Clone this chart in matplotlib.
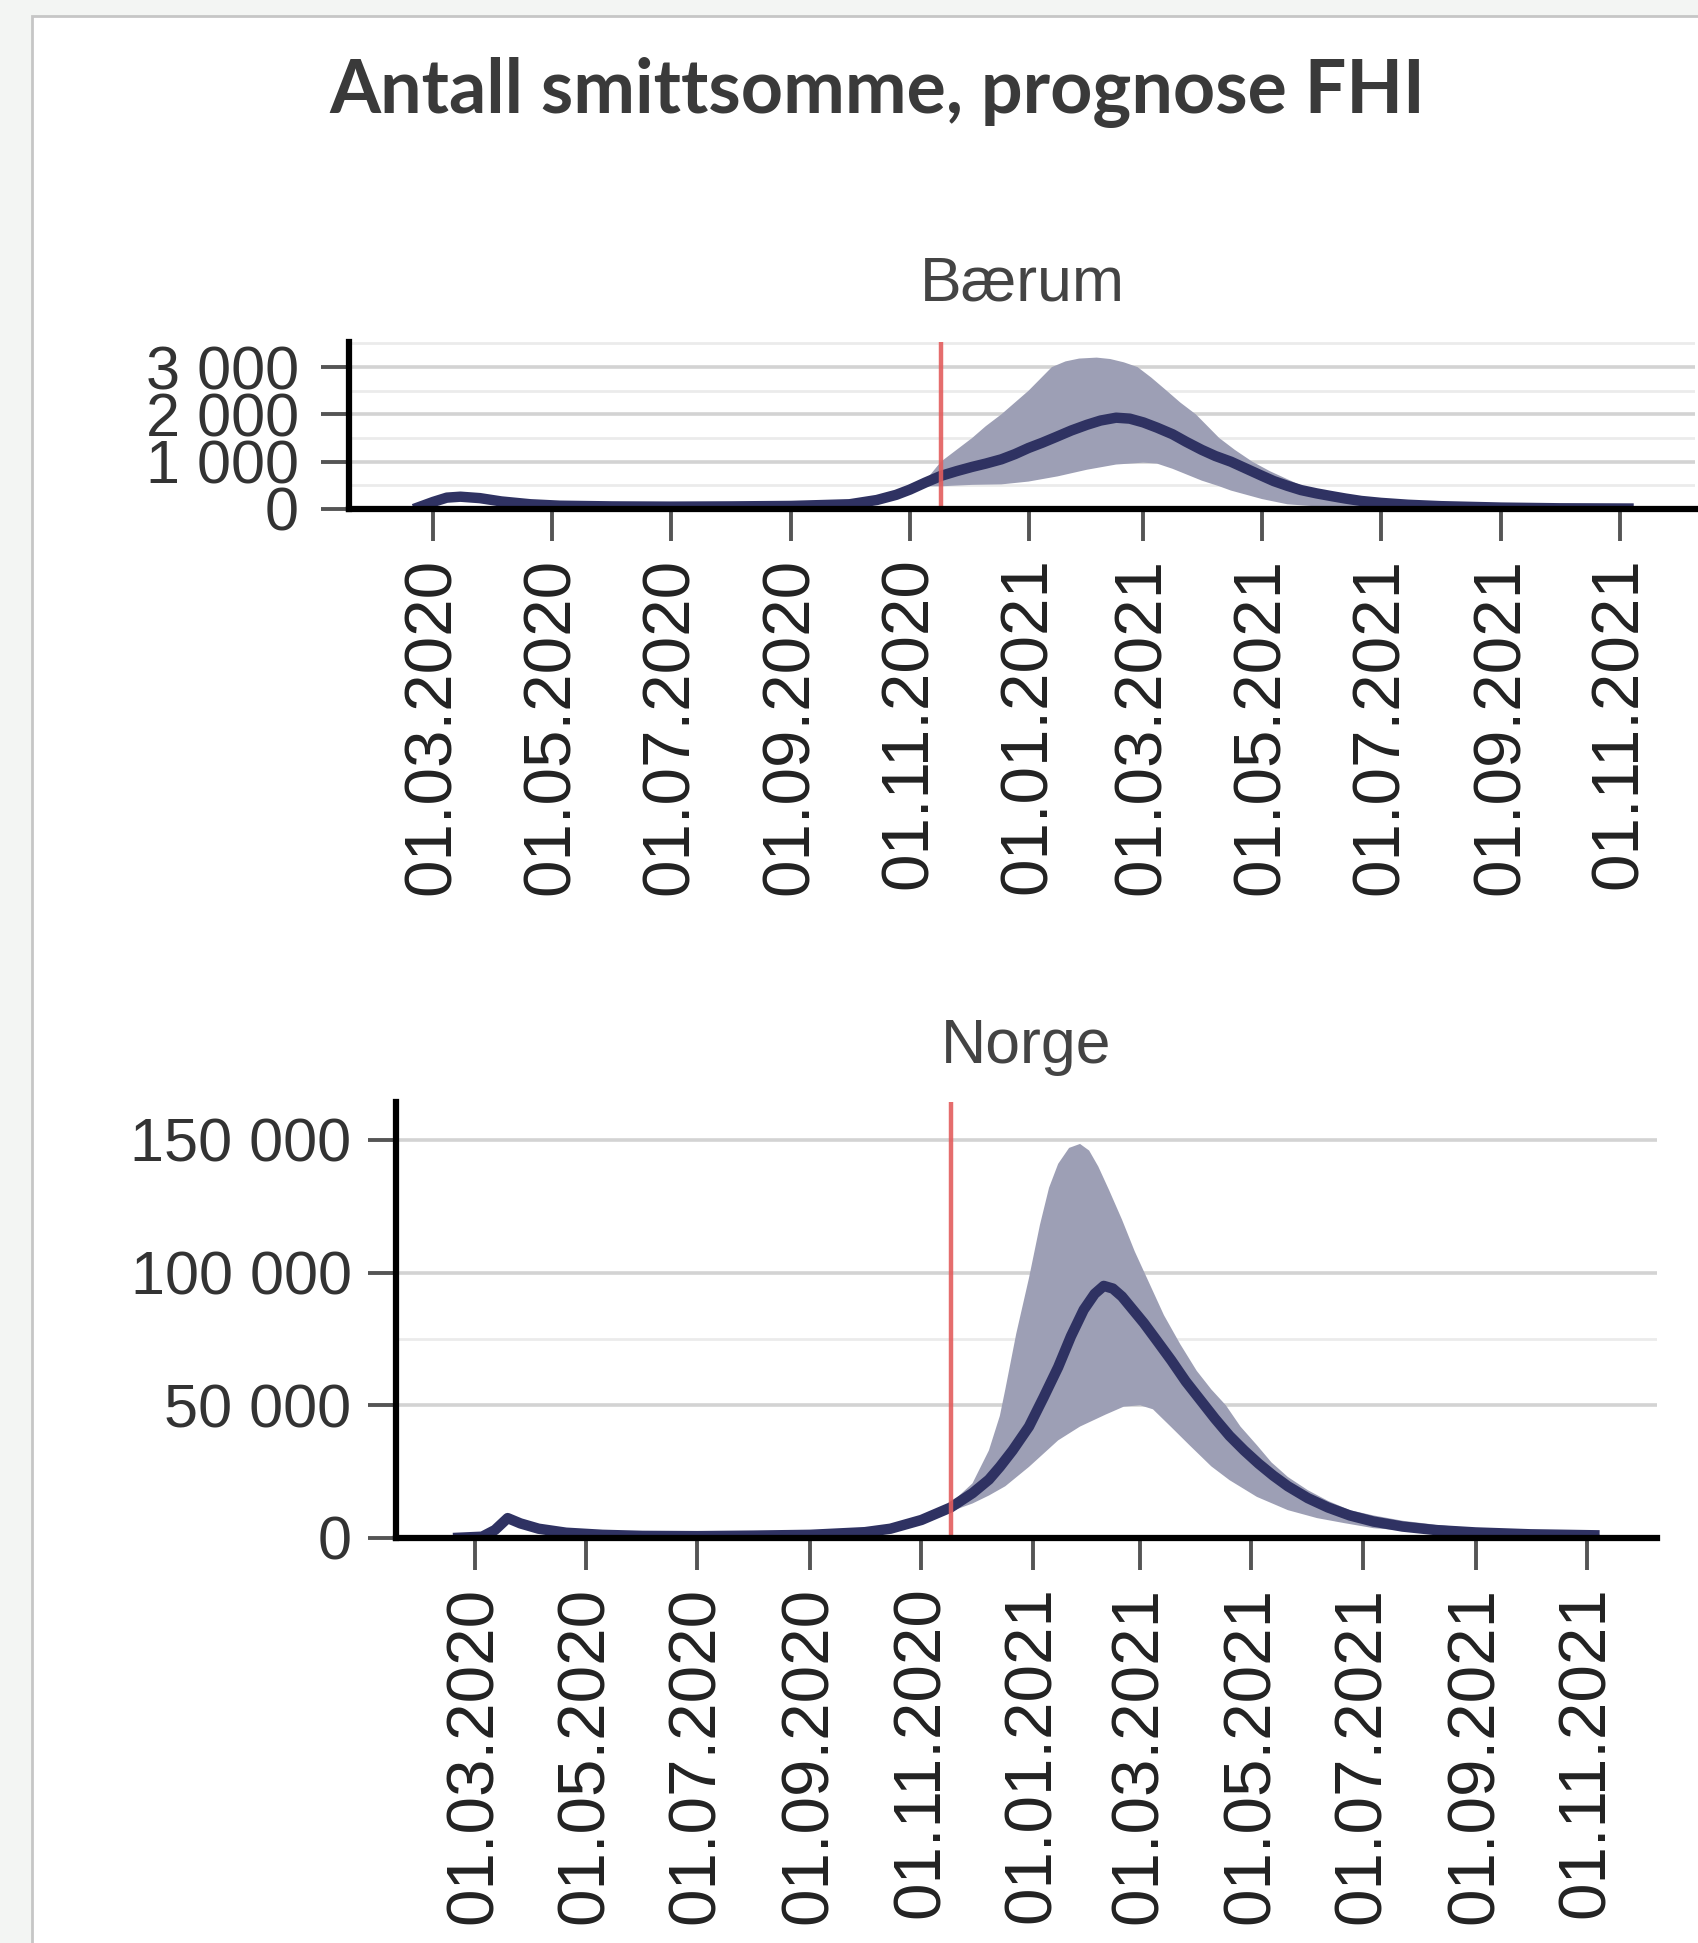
import matplotlib.pyplot as plt
import matplotlib.dates as mdates
import matplotlib.patches as patches
import numpy as np
from matplotlib.ticker import FuncFormatter

# --- data ---
# Bærum: median line, then upper and lower edge of the band
baerum_dates = ["2020-02-20", "2020-03-01", "2020-03-08", "2020-03-15", "2020-03-25",
                "2020-04-05", "2020-04-20", "2020-05-05", "2020-06-01", "2020-07-01",
                "2020-08-01", "2020-09-01", "2020-10-01", "2020-10-15", "2020-10-25",
                "2020-11-01", "2020-11-09", "2020-11-17", "2020-11-25", "2020-12-03",
                "2020-12-10", "2020-12-18", "2020-12-25", "2021-01-01", "2021-01-08",
                "2021-01-15", "2021-01-23", "2021-01-31", "2021-02-07", "2021-02-15",
                "2021-02-22", "2021-03-01", "2021-03-08", "2021-03-16", "2021-03-23",
                "2021-03-31", "2021-04-07", "2021-04-15", "2021-04-23", "2021-05-01",
                "2021-05-07", "2021-05-14", "2021-05-21", "2021-05-29", "2021-06-06",
                "2021-06-13", "2021-06-21", "2021-07-01", "2021-07-15", "2021-08-01",
                "2021-09-01", "2021-10-01", "2021-11-08"]
baerum_med = [0, 150, 240, 260, 230, 160, 100, 70, 55, 50,
              55, 65, 100, 190, 300, 410, 560, 700, 800, 890,
              960, 1050, 1160, 1290, 1400, 1520, 1660, 1780, 1870, 1930,
              1910, 1830, 1720, 1580, 1420, 1250, 1120, 1000, 850, 700,
              590, 490, 400, 330, 270, 220, 170, 130, 90, 60,
              30, 15, 10]
baerum_hi_dates = ["2020-11-01", "2020-11-09", "2020-11-17", "2020-11-25", "2020-12-03",
                   "2020-12-10", "2020-12-18", "2020-12-25", "2021-01-01", "2021-01-07",
                   "2021-01-13", "2021-01-20", "2021-01-27", "2021-02-05", "2021-02-12",
                   "2021-02-19", "2021-02-26", "2021-03-05", "2021-03-13", "2021-03-20",
                   "2021-03-28", "2021-04-03", "2021-04-09", "2021-04-17", "2021-04-26",
                   "2021-05-05", "2021-05-14", "2021-05-21", "2021-05-29", "2021-06-06",
                   "2021-06-13", "2021-07-01", "2021-07-15", "2021-08-01", "2021-09-01",
                   "2021-10-01", "2021-11-08"]
baerum_hi = [410, 600, 1000, 1250, 1500, 1750, 2000, 2250, 2500, 2750,
             3000, 3120, 3180, 3200, 3170, 3100, 3000, 2780, 2500, 2250,
             2000, 1750, 1500, 1250, 1000, 800, 630, 500, 400, 320,
             260, 160, 110, 70, 35, 20, 12]
baerum_lo_dates = ["2020-11-01", "2020-11-09", "2020-11-17", "2020-12-03", "2020-12-18",
                   "2021-01-01", "2021-01-16", "2021-01-31", "2021-02-15", "2021-03-01",
                   "2021-03-08", "2021-03-16", "2021-03-31", "2021-04-09", "2021-04-15",
                   "2021-05-01", "2021-05-14", "2021-05-29", "2021-06-13", "2021-07-01",
                   "2021-08-01", "2021-09-01", "2021-11-08"]
baerum_lo = [410, 480, 480, 510, 520, 580, 690, 830, 940, 980,
             960, 850, 600, 480, 390, 210, 100, 55, 40, 30,
             20, 10, 5]

# Norge
norge_dates = ["2020-02-18", "2020-03-05", "2020-03-12", "2020-03-19", "2020-03-26",
               "2020-04-05", "2020-04-20", "2020-05-10", "2020-06-01", "2020-07-01",
               "2020-08-01", "2020-09-01", "2020-10-01", "2020-10-15", "2020-11-01",
               "2020-11-17", "2020-11-29", "2020-12-08", "2020-12-14", "2020-12-21",
               "2020-12-30", "2021-01-07", "2021-01-15", "2021-01-22", "2021-01-29",
               "2021-02-04", "2021-02-09", "2021-02-14", "2021-02-19", "2021-02-25",
               "2021-03-03", "2021-03-10", "2021-03-18", "2021-03-26", "2021-04-03",
               "2021-04-11", "2021-04-19", "2021-04-27", "2021-05-05", "2021-05-13",
               "2021-05-21", "2021-06-01", "2021-06-12", "2021-06-24", "2021-07-07",
               "2021-07-23", "2021-08-10", "2021-09-01", "2021-10-01", "2021-11-08"]
norge_med = [0, 500, 3000, 7500, 5500, 3500, 2000, 1200, 800, 700,
             900, 1200, 2200, 3500, 6800, 11500, 16900, 22000, 26800, 33000,
             42000, 53000, 64400, 76000, 86000, 92000, 95000, 94000, 91000, 86000,
             81000, 74500, 67000, 59000, 52000, 45000, 38500, 33000, 28000, 23500,
             19500, 15000, 11500, 8500, 6200, 4300, 3000, 2100, 1400, 1000]
norge_hi_dates = ["2020-11-01", "2020-11-17", "2020-11-29", "2020-12-08", "2020-12-14",
                  "2020-12-17", "2020-12-23", "2020-12-30", "2021-01-05", "2021-01-10",
                  "2021-01-15", "2021-01-21", "2021-01-27", "2021-02-01", "2021-02-06",
                  "2021-02-12", "2021-02-19", "2021-02-26", "2021-03-06", "2021-03-14",
                  "2021-03-23", "2021-04-01", "2021-04-09", "2021-04-17", "2021-04-25",
                  "2021-05-04", "2021-05-12", "2021-05-21", "2021-06-01", "2021-06-12",
                  "2021-06-24", "2021-07-07", "2021-07-23", "2021-08-10", "2021-09-01",
                  "2021-10-01", "2021-11-08"]
norge_hi = [6800, 13000, 20600, 33000, 46000, 56000, 77000, 98000, 118000, 132000,
            141000, 147000, 148500, 146000, 140000, 131000, 120000, 108000, 96000, 84000,
            73000, 63000, 56000, 50000, 42000, 35000, 28500, 23000, 18000, 14000,
            10500, 8500, 6500, 5000, 3500, 2200, 1400]
norge_lo_dates = ["2020-11-01", "2020-11-17", "2020-11-29", "2020-12-08", "2020-12-17",
                  "2020-12-30", "2021-01-15", "2021-01-27", "2021-02-10", "2021-02-20",
                  "2021-03-01", "2021-03-08", "2021-03-18", "2021-03-28", "2021-04-09",
                  "2021-04-19", "2021-05-04", "2021-05-21", "2021-06-06", "2021-06-21",
                  "2021-07-07", "2021-08-08", "2021-09-08", "2021-10-08", "2021-11-08"]
norge_lo = [6800, 10000, 13000, 16000, 19500, 26800, 36800, 42000, 46500, 49500,
            50000, 48500, 41800, 35000, 27000, 21800, 15500, 10500, 7500, 5600,
            3700, 2000, 1300, 900, 700]

tick_dates = ["2020-03-01", "2020-05-01", "2020-07-01", "2020-09-01", "2020-11-01",
              "2021-01-01", "2021-03-01", "2021-05-01", "2021-07-01", "2021-09-01",
              "2021-11-01"]
forecast_date = "2020-11-17"
x_range = ["2020-01-17T18:00", "2021-12-09T12:00"]

W, H = 1698, 1943
LINE = "#2f3262"
BAND = "#9d9fb5"
RED = "#e35d5d"


def to_num(dates):
    return mdates.date2num(np.array(dates, dtype="datetime64[m]"))


fig = plt.figure(figsize=(W / 100, H / 100), dpi=100, facecolor="#f3f5f3")
fig.add_artist(patches.Rectangle((32 / W, -0.01), 1.2, 1 - 16 / H + 0.01,
                                 transform=fig.transFigure, facecolor="white",
                                 edgecolor="#c6c6c6", lw=2, zorder=-1))

fig.text(877 / W, 1 - 113 / H, "Antall smittsomme, prognose FHI", ha="center",
         va="baseline", fontsize=53, fontweight="bold", family="Lato",
         color="#3a3a3a")


def space_thousands(v, pos):
    return f"{int(round(v)):,}".replace(",", " ")


def draw(ax, name, dates, med, hi_dates, hi, lo_dates, lo,
         yticks, minor, ylim, title_pad, ylab_pad):
    # band as one polygon: upper edge forward, lower edge back
    band_x = np.concatenate([to_num(hi_dates), to_num(lo_dates)[::-1]])
    band_y = np.concatenate([hi, lo[::-1]])
    ax.fill(band_x, band_y, color=BAND, lw=0, zorder=2)
    ax.plot(to_num(dates), med, color=LINE, lw=7.5, solid_joinstyle="round",
            solid_capstyle="butt", zorder=3)
    ax.axvline(to_num([forecast_date])[0], color=RED, lw=3.2, alpha=0.9, zorder=4)

    ax.set_xlim(to_num(x_range))
    ax.set_ylim(*ylim)
    ax.set_facecolor("none")
    for s in ["top", "right"]:
        ax.spines[s].set_visible(False)
    for s in ["left", "bottom"]:
        ax.spines[s].set_linewidth(4.5)
        ax.spines[s].set_color("black")
        ax.spines[s].set_zorder(5)

    ax.set_yticks(yticks)
    ax.set_yticks(minor, minor=True)
    ax.yaxis.set_major_formatter(FuncFormatter(space_thousands))
    ax.grid(axis="y", which="major", color="#d3d3d3", lw=2.6, zorder=0)
    ax.grid(axis="y", which="minor", color="#ebebeb", lw=2.0, zorder=0)
    ax.set_axisbelow(True)

    ax.set_xticks(to_num(tick_dates))
    ax.set_xticklabels([t[8:10] + "." + t[5:7] + "." + t[0:4] for t in tick_dates])

    ax.tick_params(axis="y", which="major", length=20, width=2.8, color="#555555",
                   pad=ylab_pad, labelsize=44, labelcolor="#333333")
    ax.tick_params(axis="y", which="minor", length=0)
    ax.tick_params(axis="x", length=23, width=2.8, color="#555555", pad=12,
                   labelsize=48.5, labelcolor="#222222", labelrotation=90)
    for lab in ax.get_xticklabels() + ax.get_yticklabels():
        lab.set_family("Liberation Sans")

    ax.set_title(name, fontsize=45, family="Liberation Sans", color="#444444",
                 pad=title_pad)


ax1 = fig.add_axes([349 / W, 1 - 509 / H, (1695 - 349) / W, (509 - 342) / H])
draw(ax1, "Bærum", baerum_dates, baerum_med, baerum_hi_dates, baerum_hi,
     baerum_lo_dates, baerum_lo,
     [0, 1000, 2000, 3000], [500, 1500, 2500, 3500], (0, 3530), 30, 16)

ax2 = fig.add_axes([396 / W, 1 - 1538 / H, (1657 - 396) / W, (1538 - 1102) / H])
draw(ax2, "Norge", norge_dates, norge_med, norge_hi_dates, norge_hi,
     norge_lo_dates, norge_lo,
     [0, 50000, 100000, 150000], [75000], (0, 164300), 28, 12)

fig.savefig("out.png", dpi=100, facecolor=fig.get_facecolor())
